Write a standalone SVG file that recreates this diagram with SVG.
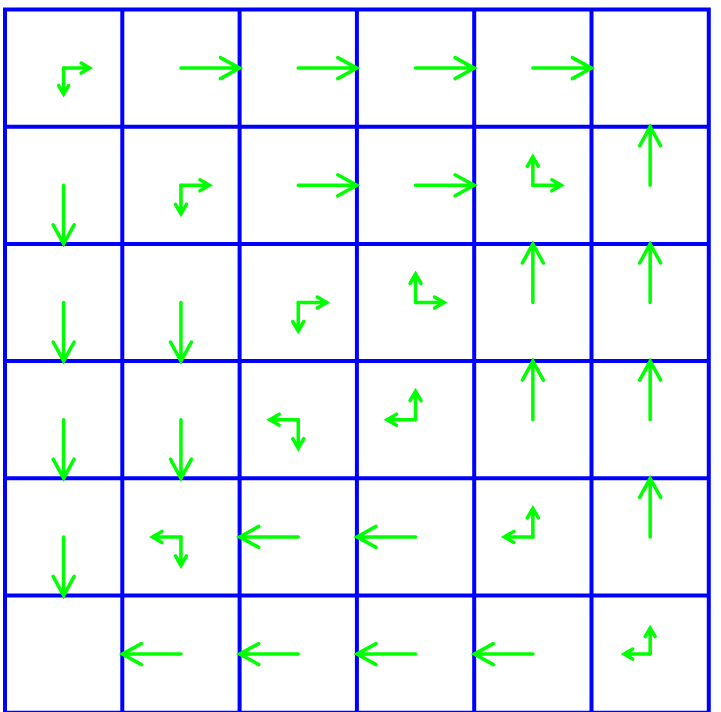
<svg xmlns="http://www.w3.org/2000/svg" xmlns:xlink="http://www.w3.org/1999/xlink" width="721" height="712" viewBox="0 0 721 712">
<style>
.g{fill:none;stroke:#0000ff;stroke-width:4;stroke-linecap:square}
.a{fill:none;stroke:#00ff00;stroke-width:3.5;stroke-linecap:round;stroke-linejoin:miter}
</style>
<defs>
<path id="big" class="a" d="M0 0H58.6M39.5 -10.5L58.6 0L39.5 10.5"/>
<path id="sm" class="a" d="M0 0H28.5M19 -5.5L28.5 0L19 5.5"/>
<path id="tn" class="a" d="M0 0H26M17.5 -5L26 0L17.5 5"/>
</defs>
<rect width="721" height="712" fill="#ffffff"/>
<g id="grid">
<path class="g" d="M5 9.5V714M122.3 9.5V714M239.6 9.5V714M356.9 9.5V714M474.2 9.5V714M591.5 9.5V714M708.8 9.5V714M5 9.5H708.8M5 126.7H708.8M5 243.9H708.8M5 361.1H708.8M5 478.3H708.8M5 595.5H708.8M5 712.7H708.8"/>
</g>
<g id="arrows">
<g id="cell-0-0"><use href="#tn" transform="translate(63.65,68.1)"/><use href="#tn" transform="translate(63.65,68.1) rotate(90)"/></g>
<g id="cell-0-1"><use href="#big" transform="translate(180.95,68.1)"/></g>
<g id="cell-0-2"><use href="#big" transform="translate(298.25,68.1)"/></g>
<g id="cell-0-3"><use href="#big" transform="translate(415.55,68.1)"/></g>
<g id="cell-0-4"><use href="#big" transform="translate(532.85,68.1)"/></g>

<g id="cell-1-0"><use href="#big" transform="translate(63.65,185.3) rotate(90)"/></g>
<g id="cell-1-1"><use href="#sm" transform="translate(180.95,185.3)"/><use href="#sm" transform="translate(180.95,185.3) rotate(90)"/></g>
<g id="cell-1-2"><use href="#big" transform="translate(298.25,185.3)"/></g>
<g id="cell-1-3"><use href="#big" transform="translate(415.55,185.3)"/></g>
<g id="cell-1-4"><use href="#sm" transform="translate(532.85,185.3)"/><use href="#sm" transform="translate(532.85,185.3) rotate(-90)"/></g>
<g id="cell-1-5"><use href="#big" transform="translate(650.15,185.3) rotate(-90)"/></g>

<g id="cell-2-0"><use href="#big" transform="translate(63.65,302.5) rotate(90)"/></g>
<g id="cell-2-1"><use href="#big" transform="translate(180.95,302.5) rotate(90)"/></g>
<g id="cell-2-2"><use href="#sm" transform="translate(298.25,302.5)"/><use href="#sm" transform="translate(298.25,302.5) rotate(90)"/></g>
<g id="cell-2-3"><use href="#sm" transform="translate(415.55,302.5)"/><use href="#sm" transform="translate(415.55,302.5) rotate(-90)"/></g>
<g id="cell-2-4"><use href="#big" transform="translate(532.85,302.5) rotate(-90)"/></g>
<g id="cell-2-5"><use href="#big" transform="translate(650.15,302.5) rotate(-90)"/></g>

<g id="cell-3-0"><use href="#big" transform="translate(63.65,419.7) rotate(90)"/></g>
<g id="cell-3-1"><use href="#big" transform="translate(180.95,419.7) rotate(90)"/></g>
<g id="cell-3-2"><use href="#sm" transform="translate(298.25,419.7) rotate(180)"/><use href="#sm" transform="translate(298.25,419.7) rotate(90)"/></g>
<g id="cell-3-3"><use href="#sm" transform="translate(415.55,419.7) rotate(180)"/><use href="#sm" transform="translate(415.55,419.7) rotate(-90)"/></g>
<g id="cell-3-4"><use href="#big" transform="translate(532.85,419.7) rotate(-90)"/></g>
<g id="cell-3-5"><use href="#big" transform="translate(650.15,419.7) rotate(-90)"/></g>

<g id="cell-4-0"><use href="#big" transform="translate(63.65,536.9) rotate(90)"/></g>
<g id="cell-4-1"><use href="#sm" transform="translate(180.95,536.9) rotate(180)"/><use href="#sm" transform="translate(180.95,536.9) rotate(90)"/></g>
<g id="cell-4-2"><use href="#big" transform="translate(298.25,536.9) rotate(180)"/></g>
<g id="cell-4-3"><use href="#big" transform="translate(415.55,536.9) rotate(180)"/></g>
<g id="cell-4-4"><use href="#sm" transform="translate(532.85,536.9) rotate(180)"/><use href="#sm" transform="translate(532.85,536.9) rotate(-90)"/></g>
<g id="cell-4-5"><use href="#big" transform="translate(650.15,536.9) rotate(-90)"/></g>

<g id="cell-5-1"><use href="#big" transform="translate(180.95,654.1) rotate(180)"/></g>
<g id="cell-5-2"><use href="#big" transform="translate(298.25,654.1) rotate(180)"/></g>
<g id="cell-5-3"><use href="#big" transform="translate(415.55,654.1) rotate(180)"/></g>
<g id="cell-5-4"><use href="#big" transform="translate(532.85,654.1) rotate(180)"/></g>
<g id="cell-5-5"><use href="#tn" transform="translate(650.15,654.1) rotate(180)"/><use href="#tn" transform="translate(650.15,654.1) rotate(-90)"/></g>
</g>
</svg>
